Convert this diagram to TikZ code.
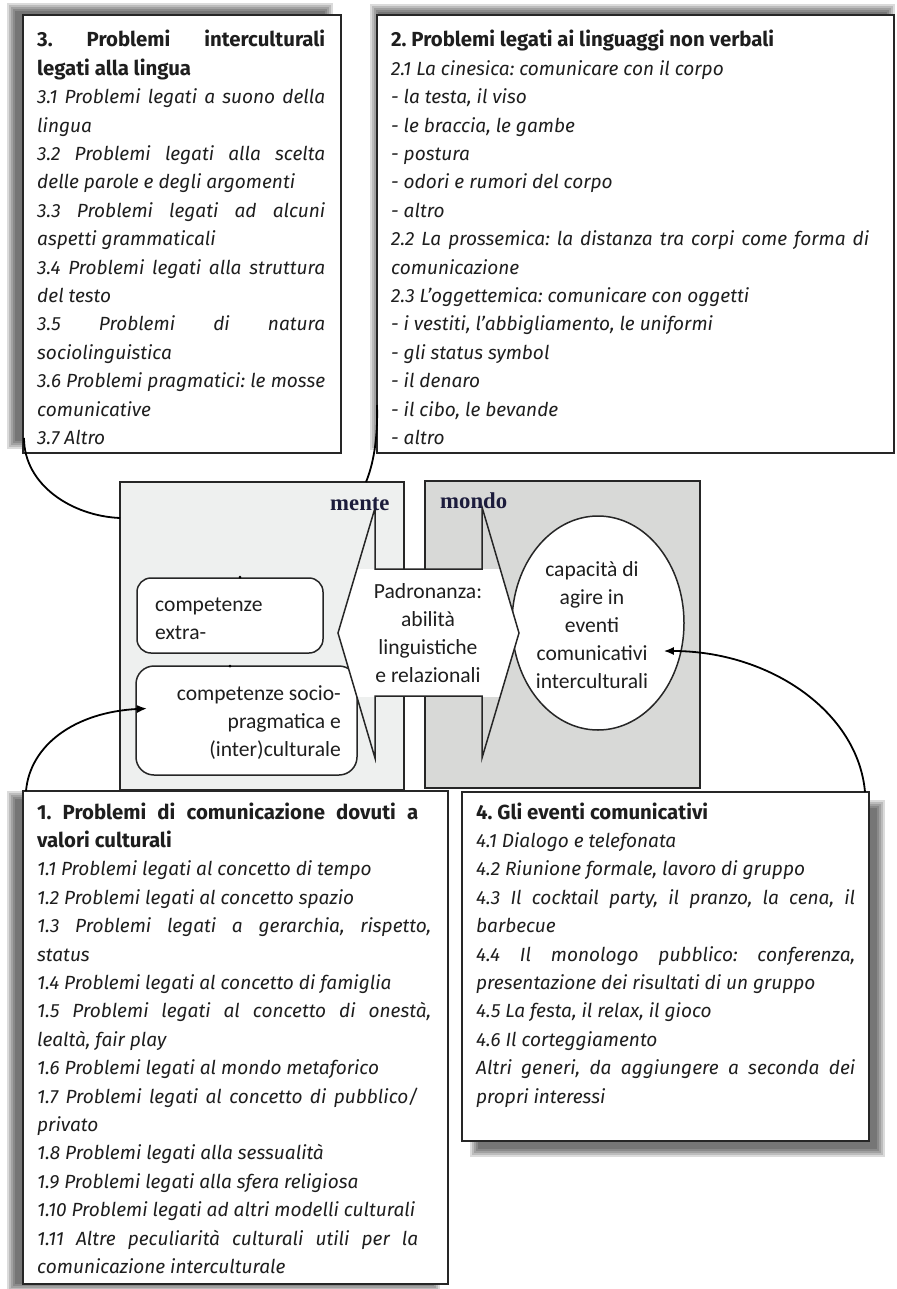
\documentclass[tikz,border=0pt]{standalone}
\usepackage{fontspec}
\usetikzlibrary{calc,arrows.meta,shapes.geometric}
\newfontfamily\boxfont{Fira Sans}
\newfontfamily\midfont{Carlito}
\newfontfamily\labfont{Liberation Serif}
\definecolor{inkcol}{HTML}{1E1E1E}
\definecolor{linecol}{HTML}{262626}
\definecolor{mentefill}{HTML}{EEF0EF}
\definecolor{mondofill}{HTML}{D8D9D7}
\definecolor{labcol}{HTML}{1C1C3C}
\newlength\wref
% one line stretched to a given width, one line at natural width
\newcommand\jline[2]{\makebox[#1pt][s]{#2}\par}
\newcommand\nline[1]{\mbox{#1}\par}
\newcommand\hdfont{\upshape\bfseries\fontsize{\bfsize}{28.4}\selectfont}
% soft grey shadow under a box: x1 y1 x2 y2
\newcommand\softshadow[4]{%
  \foreach \r in {-4,-2,0,2,4}{\fill[black,opacity=0.14] (#1-\r,#2-\r) rectangle (#3+\r,#4+\r);}}

\begin{document}
\frenchspacing
% font sizes fitted to the line lengths of the layout
\settowidth\wref{\boxfont\itshape\fontsize{10}{12}\selectfont 1.10 Problemi legati ad altri modelli culturali}
\pgfmathsetmacro\itsize{10*378/\wref}
\settowidth\wref{\boxfont\bfseries\fontsize{10}{12}\selectfont 4. Gli eventi comunicativi}
\pgfmathsetmacro\bfsize{10*232/\wref}
\settowidth\wref{\midfont\fontsize{10}{12}\selectfont competenze socio-}
\pgfmathsetmacro\midsize{10*164/\wref}
\settowidth\wref{\labfont\bfseries\fontsize{10}{12}\selectfont mondo}
\pgfmathsetmacro\labsize{10*67/\wref}%
\begin{tikzpicture}[x=1pt,y=-1pt,
  probbox/.style={draw=linecol, line width=2.1pt, fill=white, rectangle, inner sep=0pt, outer sep=0pt, anchor=north west},
  panel/.style={draw=linecol, line width=1.5pt, rectangle, inner sep=0pt, outer sep=0pt, anchor=north west},
  roundbox/.style={draw=linecol, line width=1.5pt, fill=white, rounded corners=16pt, rectangle, inner sep=0pt, outer sep=0pt, anchor=north west},
  listtext/.style={inner sep=0pt, anchor=base west, text=inkcol, font=\frenchspacing\boxfont\itshape\fontsize{\itsize}{28.4}\selectfont},
  midtext/.style={inner sep=0pt, text=inkcol, font=\midfont\fontsize{\midsize}{28}\selectfont},
  panellabel/.style={inner sep=0pt, anchor=base west, text=labcol, font=\labfont\bfseries\fontsize{\labsize}{24}\selectfont},
  link/.style={draw=black, line width=1.8pt},
  linkarrow/.style={link, -{Latex[length=10pt,width=8pt]}},
  handle/.style={fill=black, circle, inner sep=0pt, minimum size=3pt},
]
\useasboundingbox (0,0) rectangle (896,1289);
\fill[white] (0,0) rectangle (896,1289);

% ---- central scheme: mind and world ----
\node[panel, fill=mentefill, minimum width=284pt, minimum height=308pt] (mente) at (120,482) {};
\node[panel, fill=mondofill, minimum width=275pt, minimum height=307pt] (mondo) at (425,481) {};
\node[roundbox, minimum width=186pt, minimum height=75pt, rounded corners=14pt] (extra) at (137,578) {};
\node[roundbox, minimum width=221pt, minimum height=109pt, rounded corners=18pt] (socio) at (136,666) {};
\node[draw=linecol, line width=1.5pt, fill=white, ellipse, inner sep=0pt, minimum width=172pt, minimum height=214pt] (capa) at (598,623) {};
\node[handle] (h1) at (240,577) {};
\node[handle] (h2) at (230,666) {};

% double arrow between the two panels: white only along its shaft
\begin{scope}
  \clip (330,569) rectangle (530,696);
  \fill[white] (338,633) -- (375,508) -- (375,569) -- (482,569) -- (482,507) -- (519,633)
     -- (482,758) -- (482,696) -- (375,696) -- (375,758) -- cycle;
\end{scope}
\draw[linecol, line width=1.5pt, line join=miter] (338,633) -- (375,508) -- (375,569) -- (482,569) -- (482,507) -- (519,633)
     -- (482,758) -- (482,696) -- (375,696) -- (375,758) -- cycle;

\node[panellabel] (lmente) at (330,510) {mente};
\node[panellabel] (lmondo) at (440,508) {mondo};

\node[midtext, anchor=base west] (extratext) at (155,611)
  {\parbox[t]{160pt}{\nline{competenze}\nline{extra-}}};
\node[midtext, anchor=base east] (sociotext) at (341,700)
  {\parbox[t]{200pt}{\raggedleft competenze socio-\par pragmatica e\par (inter)culturale\par}};
\node[midtext, anchor=base] (padtext) at (428,598)
  {\parbox[t]{150pt}{\centering Padronanza:\par abilità\par linguistiche\par e relazionali\par}};
\node[midtext, anchor=base] (capatext) at (592,576)
  {\parbox[t]{150pt}{\centering capacità di\par agire in\par eventi\par comunicativi\par interculturali\par}};

% ---- box 3 ----
\softshadow{11}{7}{329}{445}
\node[probbox, minimum width=318pt, minimum height=438pt] (b3) at (23,15) {};
\node[listtext] (t3) at (37,47) {\parbox[t]{288pt}{%
  {\hdfont\jline{288}{3. Problemi interculturali}\nline{legati alla lingua}}%
  \jline{288}{3.1 Problemi legati a suono della}
  \nline{lingua}
  \jline{288}{3.2 Problemi legati alla scelta}
  \nline{delle parole e degli argomenti}
  \jline{288}{3.3 Problemi legati ad alcuni}
  \nline{aspetti grammaticali}
  \jline{288}{3.4 Problemi legati alla struttura}
  \nline{del testo}
  \jline{288}{3.5 Problemi di natura}
  \nline{sociolinguistica}
  \jline{288}{3.6 Problemi pragmatici: le mosse}
  \nline{comunicative}
  \nline{3.7 Altro}}};

% ---- box 2 ----
\softshadow{374}{8}{891}{446}
\node[probbox, minimum width=517pt, minimum height=438pt] (b2) at (377,15) {};
\node[listtext] (t2) at (391,47) {\parbox[t]{478pt}{%
  {\hdfont\nline{2. Problemi legati ai linguaggi non verbali}}%
  \nline{2.1 La cinesica: comunicare con il corpo}
  \nline{- la testa, il viso}
  \nline{- le braccia, le gambe}
  \nline{- postura}
  \nline{- odori e rumori del corpo}
  \nline{- altro}
  \jline{478}{2.2 La prossemica: la distanza tra corpi come forma di}
  \nline{comunicazione}
  \nline{2.3 L’oggettemica: comunicare con oggetti}
  \nline{- i vestiti, l’abbigliamento, le uniformi}
  \nline{- gli status symbol}
  \nline{- il denaro}
  \nline{- il cibo, le bevande}
  \nline{- altro}}};

% ---- box 1 ----
\softshadow{11}{795}{436}{1288}
\node[probbox, minimum width=425pt, minimum height=493pt] (b1) at (23,791) {};
\node[listtext] (t1) at (37,819) {\parbox[t]{394pt}{%
  {\hdfont\jline{381}{1. Problemi di comunicazione dovuti a}\nline{valori culturali}}%
  \nline{1.1 Problemi legati al concetto di tempo}
  \nline{1.2 Problemi legati al concetto spazio}
  \jline{394}{1.3 Problemi legati a gerarchia, rispetto,}
  \nline{status}
  \nline{1.4 Problemi legati al concetto di famiglia}
  \jline{394}{1.5 Problemi legati al concetto di onestà,}
  \nline{lealtà, fair play}
  \nline{1.6 Problemi legati al mondo metaforico}
  \jline{381}{1.7 Problemi legati al concetto di pubblico/}
  \nline{privato}
  \nline{1.8 Problemi legati alla sessualità}
  \nline{1.9 Problemi legati alla sfera religiosa}
  \nline{1.10 Problemi legati ad altri modelli culturali}
  \jline{381}{1.11 Altre peculiarità culturali utili per la}
  \nline{comunicazione interculturale}}};

% ---- box 4 ----
\softshadow{474}{804}{881}{1153}
\node[probbox, minimum width=407pt, minimum height=349pt] (b4) at (462,792) {};
\node[listtext] (t4) at (476,819) {\parbox[t]{379pt}{%
  {\hdfont\nline{4. Gli eventi comunicativi}}%
  \nline{4.1 Dialogo e telefonata}
  \nline{4.2 Riunione formale, lavoro di gruppo}
  \jline{379}{4.3 Il cocktail party, il pranzo, la cena, il}
  \nline{barbecue}
  \jline{379}{4.4 Il monologo pubblico: conferenza,}
  \nline{presentazione dei risultati di un gruppo}
  \nline{4.5 La festa, il relax, il gioco}
  \nline{4.6 Il corteggiamento}
  \jline{379}{Altri generi, da aggiungere a seconda dei}
  \nline{propri interessi}}};

% ---- connectors ----
\draw[link] ($(b3.south west)+(1,-15)$) .. controls (24,485) and (72,516) .. ($(mente.north west)+(0,36)$);
\draw[link] ($(b2.south west)+(0,-48)$) .. controls (378,440) and (373,465) .. ($(mente.north west)+(246,0)$);
\draw[linkarrow] ($(b1.north west)+(3,0)$) .. controls (30,745) and (75,712) .. ($(socio.west)+(11,-12)$);
\draw[linkarrow] ($(b4.north east)+(-4,0)$) .. controls (858,712) and (770,651) .. ($(capa.east)+(-21,28)$);
\end{tikzpicture}
\end{document}
